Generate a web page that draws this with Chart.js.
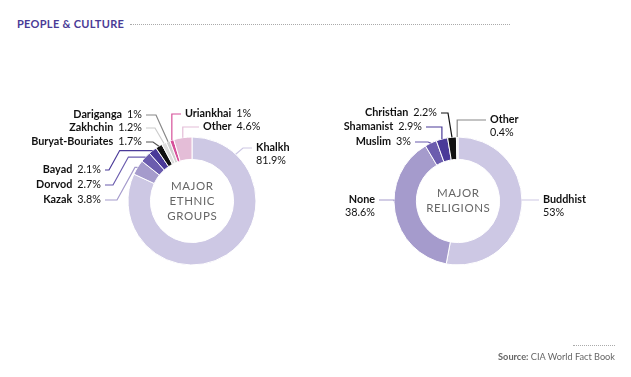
<!DOCTYPE html>
<html>
<head>
<meta charset="utf-8">
<script src="https://cdn.jsdelivr.net/npm/chart.js@4"></script>
<style>
  body { margin: 0; background: #fff; width: 631px; height: 377px; position: relative; overflow: hidden; font-family: Lato, sans-serif; }
  #title { position: absolute; left: 17px; top: 17px; font: bold 11px Lato, sans-serif; letter-spacing: 0.3px; color: #4a3b96; }
  #titleDots { position: absolute; left: 130px; top: 24px; width: 380px; border-top: 1px dotted #aaa; }
  #srcDots { position: absolute; left: 573px; top: 345px; width: 42px; border-top: 1px dotted #aaa; }
  #source { position: absolute; right: 16px; top: 351px; font: 9.2px Lato, sans-serif; color: #666; }
  #source b { font-weight: 700; }
  canvas { position: absolute; top: 0; }
  #ethnic { left: 0; }
  #religion { left: 315px; }
</style>
</head>
<body>
<div id="title">PEOPLE &amp; CULTURE</div>
<div id="titleDots"></div>
<canvas id="ethnic" width="315" height="377"></canvas>
<canvas id="religion" width="316" height="377"></canvas>
<div id="srcDots"></div>
<div id="source"><b>Source:</b> CIA World Fact Book</div>
<script>
// ethnic groups
const ethnicNames = ['Khalkh', 'Kazak', 'Dorvod', 'Bayad', 'Buryat-Bouriates', 'Zakhchin', 'Dariganga', 'Uriankhai', 'Other'];
const ethnicValues = [81.9, 3.8, 2.7, 2.1, 1.7, 1.2, 1, 1, 4.6];
const ethnicColors = ['#cdc8e4', '#a59bcc', '#6b5cae', '#4a3a98', '#111111', '#dddddd', '#cfcfcf', '#d6509a', '#e4bdd7'];
const ethnicLines = ['#cdc8e4', '#a59bcc', '#6b5cae', '#4a3a98', '#555555', '#cccccc', '#888888', '#d6509a', '#e4bdd7'];

// religions
const religionNames = ['Buddhist', 'None', 'Muslim', 'Shamanist', 'Christian', 'Other'];
const religionValues = [53, 38.6, 3, 2.9, 2.2, 0.4];
const religionColors = ['#cdc8e4', '#a59bcc', '#6b5cae', '#4a3a98', '#111111', '#eeeeee'];
const religionLines = ['#cdc8e4', '#a59bcc', '#6b5cae', '#4a3a98', '#111111', '#888888'];

// label layout: x,y text anchor, align, b1 = bend x, frac = where on the slice the line lands
const ethnicLabels = [
  {x: 256, y: 148, align: 'left', two: true, b1: 243, frac: 0.146},
  {x: 101, y: 200, align: 'right', b1: 117},
  {x: 101, y: 185, align: 'right', b1: 113},
  {x: 101, y: 170, align: 'right', b1: 109},
  {x: 142, y: 142, align: 'right', b1: 153},
  {x: 142, y: 128, align: 'right', b1: 155},
  {x: 142, y: 115, align: 'right', b1: 156},
  {x: 185, y: 114, align: 'left', b1: null},
  {x: 203, y: 127, align: 'left', b1: null}
];
const religionLabels = [
  {x: 228, y: 200, align: 'left', two: true, b1: null, frac: 0.47},
  {x: 60, y: 200, align: 'right', two: true, b1: null, frac: 0.57},
  {x: 96, y: 142, align: 'right', b1: 113},
  {x: 107, y: 127, align: 'right', b1: null},
  {x: 122, y: 113, align: 'right', b1: 133},
  {x: 175, y: 120, align: 'left', two: true, b1: null}
];

function drawLabels(chart, names, values, lines, layout, center) {
  const ctx = chart.ctx;
  const arcs = chart.getDatasetMeta(0).data;
  ctx.save();
  arcs.forEach((arc, i) => {
    const L = layout[i];
    const p = arc.getProps(['x', 'y', 'startAngle', 'endAngle', 'outerRadius'], true);
    const f = L.frac === undefined ? 0.5 : L.frac;
    const a = p.startAngle + (p.endAngle - p.startAngle) * f;
    const ax = p.x + Math.cos(a) * p.outerRadius;
    const ay = p.y + Math.sin(a) * p.outerRadius;
    const name = names[i];
    const val = values[i] + '%';
    ctx.textBaseline = 'middle';
    const boldF = 'bold 10.8px Lato, sans-serif';
    const regF = '10.8px Lato, sans-serif';
    ctx.font = boldF;
    const wn = ctx.measureText(name).width;
    ctx.font = regF;
    const wv = ctx.measureText(val).width;
    let lineStartX;
    ctx.fillStyle = '#111';
    if (L.two) {
      ctx.textAlign = L.align;
      ctx.font = boldF;
      ctx.fillText(name, L.x, L.y);
      ctx.font = regF;
      ctx.fillText(val, L.x, L.y + 13);
      lineStartX = L.align === 'left' ? L.x - 4 : L.x + 4;
    } else {
      const tot = wn + 5 + wv;
      const x0 = L.align === 'left' ? L.x : L.x - tot;
      ctx.textAlign = 'left';
      ctx.font = boldF;
      ctx.fillText(name, x0, L.y);
      ctx.font = regF;
      ctx.fillText(val, x0 + wn + 5, L.y);
      lineStartX = L.align === 'left' ? L.x - 4 : L.x + 4;
    }
    ctx.strokeStyle = lines[i];
    ctx.lineWidth = 1.2;
    ctx.beginPath();
    ctx.moveTo(lineStartX, L.y);
    const b1 = L.b1 === null ? ax : L.b1;
    ctx.lineTo(b1, L.y);
    if (L.b1 !== null && L.align === 'right' && ay < L.y) {
      // go up then across into the slice
      ctx.lineTo(b1 + (L.y - ay) * 0.55, ay);
      ctx.lineTo(ax, ay);
    } else {
      ctx.lineTo(ax, ay);
    }
    ctx.stroke();
  });
  // center text
  ctx.fillStyle = '#666666';
  ctx.font = '11.5px Lato, sans-serif';
  ctx.textAlign = 'center';
  ctx.textBaseline = 'middle';
  const cx = arcs[0].x, cy = arcs[0].y;
  const step = 15;
  const y0 = cy - (center.length - 1) * step / 2;
  center.forEach((t, k) => {
    ctx.letterSpacing = '0.6px';
    ctx.fillText(t, cx + 0.3, y0 + k * step);
  });
  ctx.restore();
}

function makeDonut(id, names, values, colors, lines, layout, center, pad) {
  new Chart(document.getElementById(id), {
    type: 'doughnut',
    data: {
      labels: names,
      datasets: [{
        data: values,
        backgroundColor: colors,
        borderColor: '#ffffff',
        borderWidth: 1
      }]
    },
    options: {
      responsive: false,
      animation: false,
      cutout: '65%',
      layout: { padding: pad },
      plugins: { legend: { display: false }, tooltip: { enabled: false } }
    },
    plugins: [{
      id: 'leaders',
      afterDatasetsDraw(chart) { drawLabels(chart, names, values, lines, layout, center); }
    }]
  });
}

makeDonut('ethnic', ethnicNames, ethnicValues, ethnicColors, ethnicLines, ethnicLabels,
  ['MAJOR', 'ETHNIC', 'GROUPS'], {left: 127.5, right: 58.5, top: 136.5, bottom: 111.5});
makeDonut('religion', religionNames, religionValues, religionColors, religionLines, religionLabels,
  ['MAJOR', 'RELIGIONS'], {left: 78.5, right: 108.5, top: 136.5, bottom: 111.5});
</script>
</body>
</html>
